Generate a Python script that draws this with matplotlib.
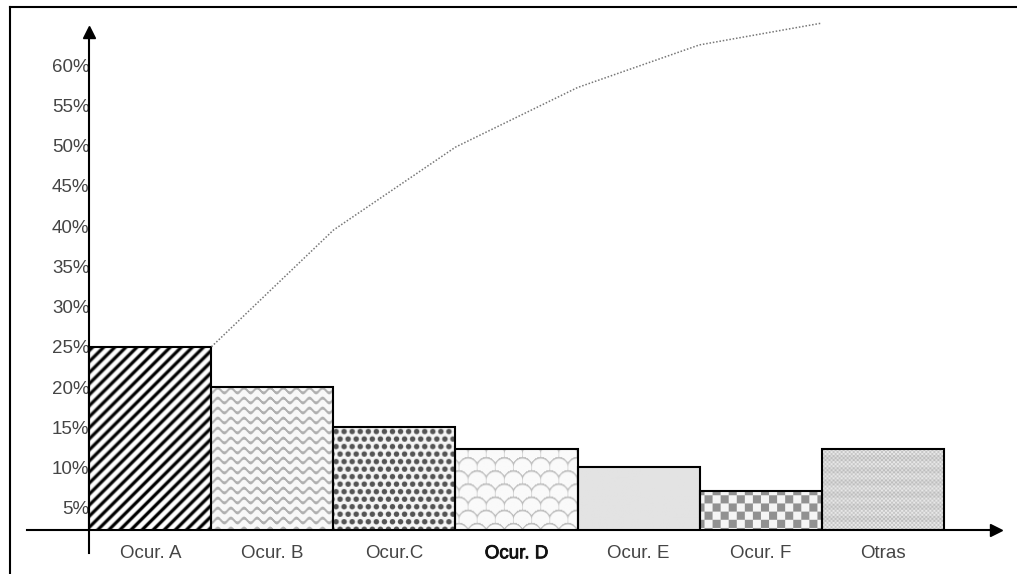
import numpy as np
import matplotlib
matplotlib.use("Agg")
import matplotlib.pyplot as plt
import matplotlib.patheffects as pe

plt.rcParams['font.family'] = ['Liberation Sans', 'DejaVu Sans']

categorias = ["Ocur. A", "Ocur. B", "Ocur.C", "Ocur. D", "Ocur. E", "Ocur. F", "Otras"]
porcentaje = [25, 20, 15, 12.3, 10.1, 7.1, 12.3]
acumulado = [25, 39.5, 49.8, 57.2, 62.5, 65.2]
yticks = [5, 10, 15, 20, 25, 30, 35, 40, 45, 50, 55, 60]
yticks_text = [f"{v}%" for v in yticks]

#-------- figura / ejes ------------#
FW, FH = 1017, 574
fig = plt.figure(figsize=(FW / 100, FH / 100), dpi=100)

# caja de ejes en pixeles
px_left, px_right, px_top, px_bottom = 27, 996, 32, 530
ax = fig.add_axes([px_left / FW, (FH - px_bottom) / FH,
                   (px_right - px_left) / FW, (px_bottom - px_top) / FH])

xlim = (-1.012, 6.93)
ylim = (2.236, 64.1)

#-------- texturas (en pixeles de la figura) ------------#
H = px_bottom - px_top
W = px_right - px_left
I, J = np.mgrid[0:H, 0:W].astype(float)
I += px_top
J += px_left


def rayas():
    t = np.cos(2 * np.pi * (I + J) / 11.0)
    return np.clip(0.5 - 0.9 * (t - 0.25), 0, 1)


def zigzag():
    onda = 2.4 * np.sin(2 * np.pi * J / 13.0)
    d = (I - onda) % 10.0
    dist = np.minimum(d, 10.0 - d)
    a = np.clip(2.0 - dist, 0, 1)
    return 0.97 - 0.28 * a


def puntos():
    fila = np.floor(I / 7.5)
    off = (fila % 2) * 4.0
    dx = ((J - off) % 8.0) - 4.0
    dy = (I % 7.5) - 3.75
    dist = np.sqrt(dx ** 2 + dy ** 2)
    return 0.33 + 0.63 * np.clip((dist - 2.2) / 1.0, 0, 1)


def escamas():
    px, py, R = 18.0, 13.0, 10.5
    dueno = np.full(I.shape, np.inf)
    r0 = np.floor(I / py) - 1
    for k in range(4):
        r = r0 + k
        off = (r % 2) * px / 2
        cx = np.round((J - off) / px) * px + off
        cy = r * py
        d = np.sqrt((J - cx) ** 2 + (I - cy) ** 2)
        dueno = np.where(d <= R, d, dueno)
    borde = np.clip(2.0 - (R - dueno), 0, 1)
    borde[~np.isfinite(dueno)] = 0
    return 0.98 - 0.24 * borde


def liso():
    return np.full(I.shape, 0.89)


def damero():
    c = ((np.floor(I / 8) + np.floor(J / 8)) % 2)
    return np.where(c == 0, 0.57, 0.96)


def fino():
    c = ((np.floor(I / 2) + np.floor(J / 2)) % 2)
    f = ((np.floor(I / 6) % 2) * 0.04)
    return 0.74 + 0.13 * c + f


texturas = [rayas(), zigzag(), puntos(), escamas(), liso(), damero(), fino()]

#-------- barras ------------#
x = np.arange(len(categorias))
barras = ax.bar(x, porcentaje, width=1.0, fill=False, edgecolor='black',
                linewidth=1.5, zorder=3)

for b, tex in zip(barras, texturas):
    im = ax.imshow(tex, cmap='gray', vmin=0, vmax=1,
                   extent=(xlim[0], xlim[1], ylim[0], ylim[1]),
                   aspect='auto', interpolation='bilinear', zorder=1)
    im.set_clip_path(b)

# curva acumulada (esquina derecha de cada barra)
ax.plot(x[:len(acumulado)] + 0.5, acumulado, linestyle=(0, (1, 1.2)),
        color='#777777', linewidth=1.1, clip_on=False, zorder=4)

ax.set_xlim(*xlim)
ax.set_ylim(*ylim)

#-------- ejes con flechas ------------#
for s in ['top', 'right']:
    ax.spines[s].set_visible(False)
ax.spines['left'].set_position(('data', -0.5))
ax.spines['left'].set_linewidth(1.5)
ax.spines['bottom'].set_linewidth(1.5)
ax.spines['left'].set_zorder(5)
ax.spines['bottom'].set_zorder(5)

ax.axvline(-0.5, ymin=-0.046, ymax=0, color='black', linewidth=1.5, clip_on=False)
ax.plot(1, ylim[0], marker='>', markersize=9, color='black',
        transform=ax.get_yaxis_transform(), clip_on=False, zorder=6)
ax.plot(-0.5, 1, marker='^', markersize=9, color='black',
        transform=ax.get_xaxis_transform(), clip_on=False, zorder=6)

ax.set_yticks(yticks, yticks_text)
ax.set_xticks(x, categorias)
ax.tick_params(axis='y', length=0, pad=0, labelsize=13.5, labelcolor='#454545')
ax.tick_params(axis='x', length=0, pad=11, labelsize=13.5, labelcolor='#454545')
lbl = ax.get_xticklabels()[3]
lbl.set_color('#111111')
lbl.set_path_effects([pe.withStroke(linewidth=0.6, foreground='#111111')])

# marco de la imagen
fig.add_artist(plt.Line2D([10 / FW, 1], [1 - 7 / FH, 1 - 7 / FH],
                          transform=fig.transFigure, color='black', linewidth=1.5))
fig.add_artist(plt.Line2D([10 / FW, 10 / FW], [0, 1 - 7 / FH],
                          transform=fig.transFigure, color='black', linewidth=1.5))

fig.savefig("out.png", dpi=100)
